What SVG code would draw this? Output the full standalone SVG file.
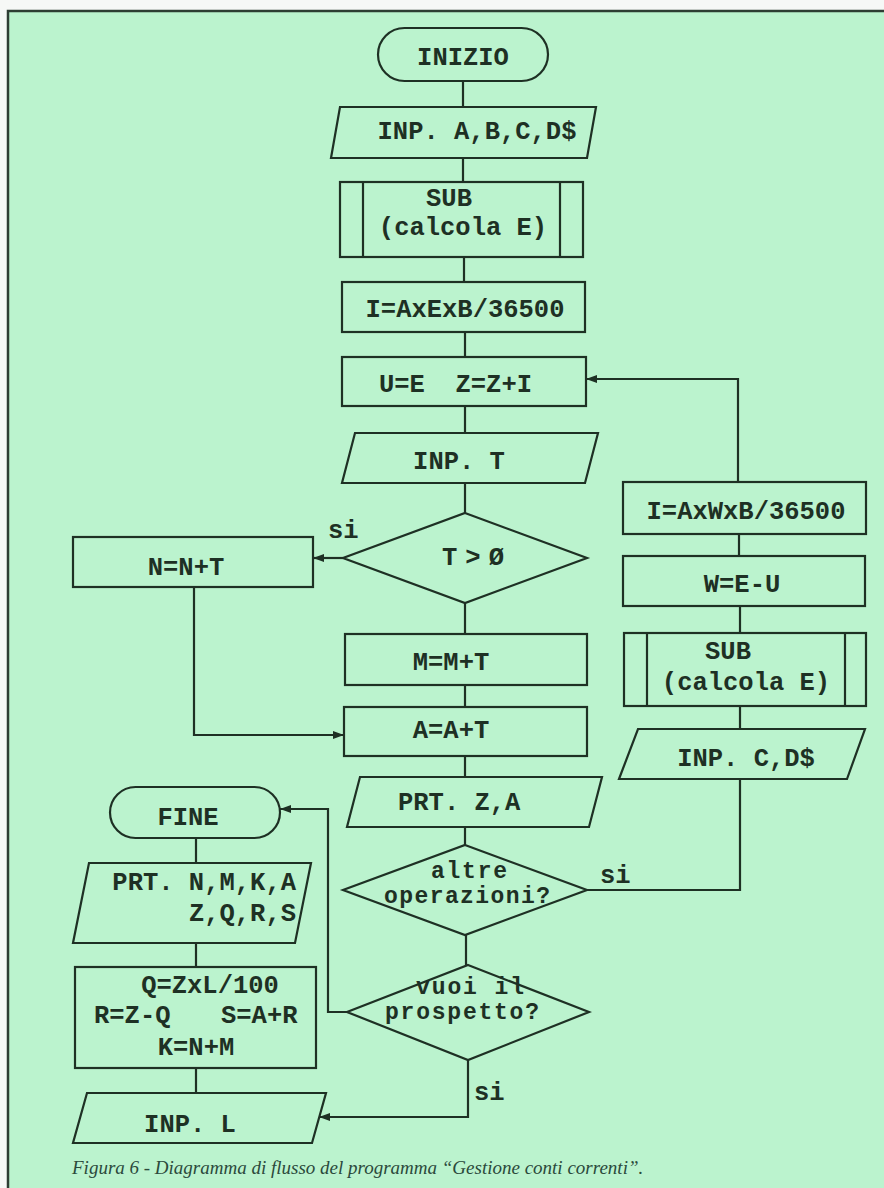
<svg xmlns="http://www.w3.org/2000/svg" width="884" height="1188" viewBox="0 0 884 1188">
<style>
.n{fill:#bbf3ce;stroke:#1e3024;stroke-width:2.2}
.s{fill:none;stroke:#1e3024;stroke-width:2.2}
.t{font-family:"Liberation Mono","DejaVu Sans Mono",monospace;font-weight:bold;font-size:25.5px;fill:#1e3024}
.d{font-size:23px}
.m{text-anchor:middle}
.e{text-anchor:end}
.cap{font-family:"Liberation Serif","Times New Roman",serif;font-style:italic;font-size:19px;fill:#2b4a3c}
</style>
<defs>
<marker id="ah" markerUnits="userSpaceOnUse" markerWidth="12" markerHeight="10" refX="11" refY="4" orient="auto"><path d="M0,0 L11,4 L0,8 z" fill="#1e3024"/></marker>
</defs>
<rect x="0" y="0" width="884" height="1188" fill="#f6f8f6"/>
<rect x="8" y="11" width="876" height="1177" fill="#bbf3ce"/>
<path d="M8,1188 V11 H884" fill="none" stroke="#2d3d33" stroke-width="2.5"/>

<g id="connectors">
<path class="s" d="M463,81 V107"/>
<path class="s" d="M463,158 V182"/>
<path class="s" d="M464,257 V282"/>
<path class="s" d="M465,332 V357"/>
<path class="s" d="M465,406 V433"/>
<path class="s" d="M465,483 V513"/>
<path class="s" d="M343,558 H313" marker-end="url(#ah)"/>
<path class="s" d="M465,603 V634"/>
<path class="s" d="M194,587 V735 H344" marker-end="url(#ah)"/>
<path class="s" d="M465,685 V707"/>
<path class="s" d="M465,756 V777"/>
<path class="s" d="M465,827 V845"/>
<path class="s" d="M466,935 V965"/>
<path class="s" d="M587,890 H740 V779"/>
<path class="s" d="M740,729 V706"/>
<path class="s" d="M740,633 V606"/>
<path class="s" d="M739,556 V534"/>
<path class="s" d="M738,482 V379 H586" marker-end="url(#ah)"/>
<path class="s" d="M347,1012 H328 V809 H280" marker-end="url(#ah)"/>
<path class="s" d="M196,838 V863"/>
<path class="s" d="M196,943 V967"/>
<path class="s" d="M196,1068 V1093"/>
<path class="s" d="M468,1060 V1117 H319" marker-end="url(#ah)"/>
<text class="t" x="328" y="538">si</text>
<text class="t" x="600" y="883">si</text>
<text class="t" x="474" y="1100">si</text>
</g>

<g id="inizio"><rect class="n" x="378" y="28" width="170" height="53" rx="26.5"/><text class="t m" x="463" y="65">INIZIO</text></g>
<g id="inp-abcd"><polygon class="n" points="340,107 596,107 587,158 331,158"/><text class="t m" x="477" y="139">INP. A,B,C,D$</text></g>
<g id="sub1"><rect class="n" x="340" y="182" width="243" height="75"/><path class="s" d="M363,182 V257 M560,182 V257"/><text class="t m" x="449" y="206">SUB</text><text class="t m" x="463" y="235">(calcola E)</text></g>
<g id="calc-i1"><rect class="n" x="342" y="282" width="243" height="50"/><text class="t m" x="465" y="317">I=AxExB/36500</text></g>
<g id="ue"><rect class="n" x="342" y="357" width="244" height="49"/><text class="t" x="379" y="392" xml:space="preserve">U=E  Z=Z+I</text></g>
<g id="inp-t"><polygon class="n" points="355,433 598,433 585,483 342,483"/><text class="t m" x="459" y="469">INP. T</text></g>
<g id="dec-t"><polygon class="n" points="465,513 587,558 465,603 343,558"/><text class="t m" x="473" y="565" textLength="62" lengthAdjust="spacing">T &gt; Ø</text></g>
<g id="nnt"><rect class="n" x="73" y="537" width="240" height="50"/><text class="t m" x="186" y="575">N=N+T</text></g>
<g id="mmt"><rect class="n" x="345" y="634" width="242" height="51"/><text class="t m" x="451" y="670">M=M+T</text></g>
<g id="aat"><rect class="n" x="344" y="707" width="243" height="49"/><text class="t m" x="451" y="738">A=A+T</text></g>
<g id="prt-za"><polygon class="n" points="360,777 602,777 589,827 347,827"/><text class="t" x="398" y="810">PRT. Z,A</text></g>
<g id="dec-altre"><polygon class="n" points="465,845 587,890 465,935 343,890"/><text class="t d m" x="469" y="878" textLength="76" lengthAdjust="spacing">altre</text><text class="t d m" x="467" y="903" textLength="166" lengthAdjust="spacing">operazioni?</text></g>
<g id="dec-vuoi"><polygon class="n" points="468,965 589,1012 468,1060 347,1012"/><text class="t d m" x="470" y="994" textLength="108" lengthAdjust="spacing">vuoi il</text><text class="t d m" x="462" y="1019" textLength="154" lengthAdjust="spacing">prospetto?</text></g>
<g id="calc-i2"><rect class="n" x="623" y="482" width="243" height="52"/><text class="t m" x="746" y="519">I=AxWxB/36500</text></g>
<g id="weu"><rect class="n" x="623" y="556" width="242" height="50"/><text class="t m" x="742" y="592">W=E-U</text></g>
<g id="sub2"><rect class="n" x="624" y="633" width="242" height="73"/><path class="s" d="M647,633 V706 M845,633 V706"/><text class="t m" x="728" y="659">SUB</text><text class="t m" x="746" y="690">(calcola E)</text></g>
<g id="inp-cd"><polygon class="n" points="638,729 865,729 847,779 619,779"/><text class="t m" x="746" y="766">INP. C,D$</text></g>
<g id="fine"><rect class="n" x="110" y="787" width="170" height="51" rx="25.5"/><text class="t m" x="188" y="825">FINE</text></g>
<g id="prt-all"><polygon class="n" points="89,863 311,863 295,943 73,943"/><text class="t e" x="296" y="890">PRT. N,M,K,A</text><text class="t e" x="296" y="921">Z,Q,R,S</text></g>
<g id="calc-q"><rect class="n" x="75" y="967" width="241" height="101"/><text class="t m" x="210" y="993">Q=ZxL/100</text><text class="t" x="94" y="1023">R=Z-Q</text><text class="t" x="221" y="1023">S=A+R</text><text class="t m" x="196" y="1055">K=N+M</text></g>
<g id="inp-l"><polygon class="n" points="87,1093 326,1093 312,1143 73,1143"/><text class="t m" x="190" y="1132">INP. L</text></g>

<text class="cap" x="72" y="1174">Figura 6 - Diagramma di flusso del programma “Gestione conti correnti”.</text>
</svg>
